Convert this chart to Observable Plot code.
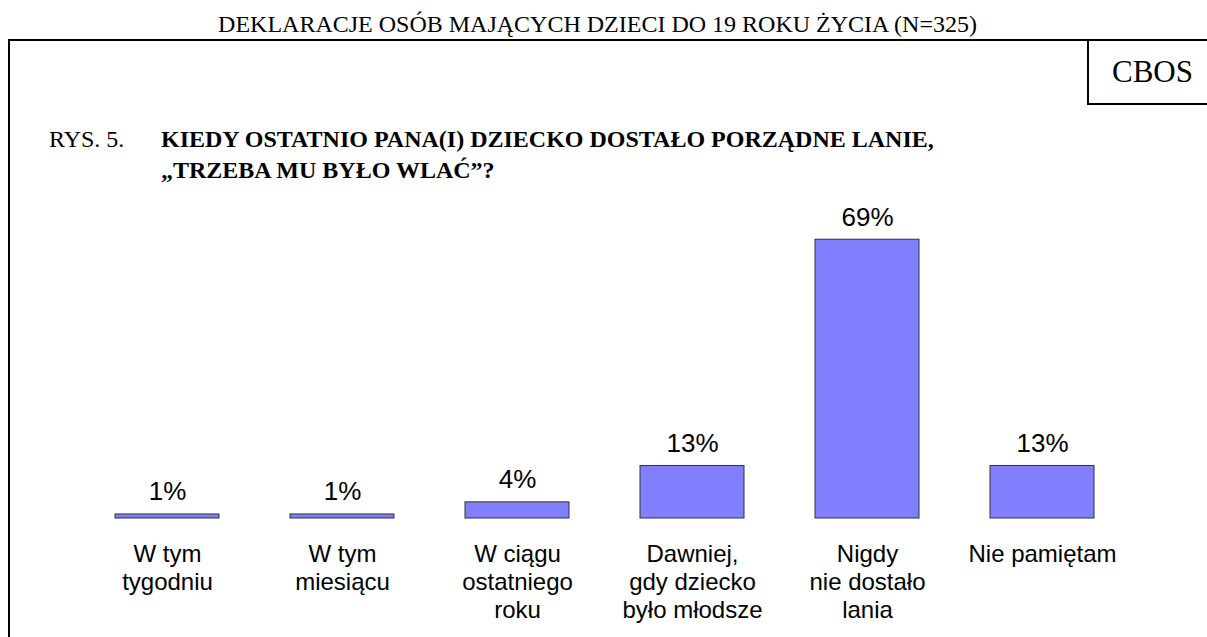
<!DOCTYPE html>
<html>
<head>
<meta charset="utf-8">
<script src="https://cdn.jsdelivr.net/npm/d3@7"></script>
<script src="https://cdn.jsdelivr.net/npm/@observablehq/plot@0.6"></script>
<style>
  body { margin: 0; background: #fff; }
  #wrap { position: relative; width: 1207px; height: 637px; overflow: hidden; background: #fff; }
  #wrap svg { position: absolute; left: 0; top: 0; }
  .serif { font-family: "Liberation Serif", "Times New Roman", serif; color: #000; position: absolute; white-space: nowrap; }
  #title { left: 0; width: 1195px; text-align: center; top: 11.9px; font-size: 24px; line-height: 1; }
  #frame { position: absolute; left: 8px; top: 39px; width: 1210px; height: 610px; border-left: 2px solid #000; border-top: 2px solid #000; box-sizing: border-box; }
  #cbosbox { position: absolute; left: 1087px; top: 39px; width: 130px; height: 66px; border-left: 2px solid #000; border-bottom: 2px solid #000; box-sizing: border-box; }
  #cbos { left: 1112px; top: 56px; font-size: 31px; line-height: 1; }
  #rys { left: 49px; top: 124.4px; font-size: 24px; line-height: 31px; }
  #q { left: 161px; top: 124.4px; font-size: 24px; line-height: 31px; font-weight: bold; }
</style>
</head>
<body>
<div id="wrap">
  <div id="frame"></div>
  <div id="cbosbox"></div>
  <div class="serif" id="title">DEKLARACJE OSÓB MAJĄCYCH DZIECI DO 19 ROKU ŻYCIA (N=325)</div>
  <div class="serif" id="cbos">CBOS</div>
  <div class="serif" id="rys">RYS. 5.</div>
  <div class="serif" id="q">KIEDY OSTATNIO PANA(I) DZIECKO DOSTAŁO PORZĄDNE LANIE,<br>„TRZEBA MU BYŁO WLAĆ”?</div>
</div>
<script>
const categories = [
  "W tym\ntygodniu",
  "W tym\nmiesiącu",
  "W ciągu\nostatniego\nroku",
  "Dawniej,\ngdy dziecko\nbyło młodsze",
  "Nigdy\nnie dostało\nlania",
  "Nie pamiętam"
];
const values = [1, 1, 4, 13, 69, 13];
const valueLabels = ["1%", "1%", "4%", "13%", "69%", "13%"];

const data = categories.map((c, i) => ({category: c, value: values[i], label: valueLabels[i]}));

const chart = Plot.plot({
  width: 1207,
  height: 637,
  marginLeft: 78,
  marginRight: 77,
  marginTop: 114,
  marginBottom: 119,
  style: {background: "transparent", fontFamily: "'Liberation Sans', Arial, sans-serif", color: "#000"},
  x: {domain: categories, paddingInner: 0.406, paddingOuter: 0.203, axis: null},
  y: {domain: [0, 100], axis: null},
  marks: [
    Plot.barY(data, {x: "category", y: "value", fill: "#8080ff", stroke: "#333", strokeWidth: 1}),
    Plot.text(data, {x: "category", y: "value", text: "label", lineAnchor: "bottom", dy: -14, fontSize: 26, fill: "#000"}),
    Plot.axisX({domain: categories, tickSize: 0, tickPadding: 24, fontSize: 24, lineHeight: 1.1667, anchor: "bottom", label: null, textStroke: "none"})
  ]
});
document.getElementById("wrap").prepend(chart);
</script>
</body>
</html>
